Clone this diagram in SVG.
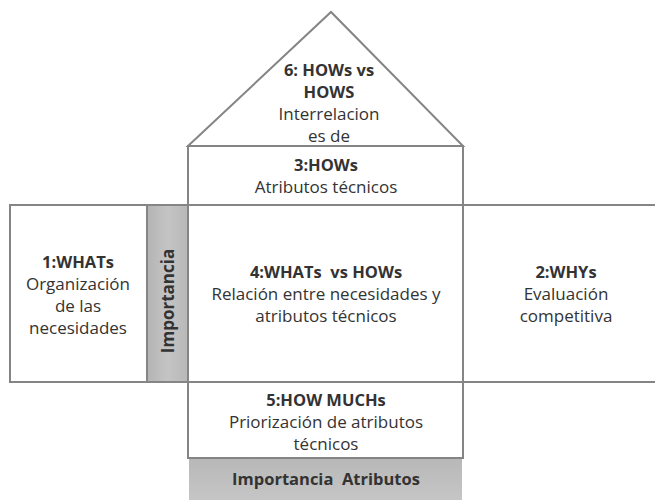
<svg xmlns="http://www.w3.org/2000/svg" width="655" height="500" viewBox="0 0 655 500">
  <defs>
    <linearGradient id="gv" x1="0" y1="0" x2="1" y2="0">
      <stop offset="0" stop-color="#b4b4b4"/>
      <stop offset="0.5" stop-color="#c4c4c4"/>
      <stop offset="1" stop-color="#b8b8b8"/>
    </linearGradient>
    <linearGradient id="gh" x1="0" y1="0" x2="0" y2="1">
      <stop offset="0" stop-color="#b8b8b8"/>
      <stop offset="1" stop-color="#c6c6c6"/>
    </linearGradient>
    <style>
      .ln { fill: none; stroke: #858585; stroke-width: 2; }
      .box { fill: #ffffff; stroke: #858585; stroke-width: 2; }
      text { font-family: "Open Sans", "Liberation Sans", sans-serif; fill: #333333; text-anchor: middle; white-space: pre; }
      .h { font-weight: bold; font-size: 16.5px; }
      .t { font-size: 17px; }
    </style>
  </defs>
  <rect width="655" height="500" fill="#ffffff"/>

  <g id="roof">
    <polygon class="box" points="188,146 331,12 463,146"/>
    <text class="h" x="329" y="76">6: HOWs vs</text>
    <text class="h" x="329" y="98">HOWS</text>
    <text class="t" x="329" y="120">Interrelacion</text>
    <text class="t" x="329" y="142">es de</text>
  </g>

  <g id="hows">
    <rect class="box" x="188" y="146" width="275" height="59"/>
    <text class="h" x="326" y="171">3:HOWs</text>
    <text class="t" x="326" y="193">Atributos técnicos</text>
  </g>

  <g id="whats">
    <rect class="box" x="10" y="205" width="137" height="177"/>
    <text class="h" x="78" y="268">1:WHATs</text>
    <text class="t" x="78" y="290">Organización</text>
    <text class="t" x="78" y="312">de las</text>
    <text class="t" x="78" y="334">necesidades</text>
  </g>

  <g id="importancia">
    <rect x="147" y="205" width="41" height="177" fill="url(#gv)" stroke="#858585" stroke-width="2"/>
    <text class="h" transform="translate(174,301) rotate(-90)" x="0" y="0" style="font-size:17px">Importancia</text>
  </g>

  <g id="whats-vs-hows">
    <rect class="box" x="188" y="205" width="275" height="177"/>
    <text class="h" x="326" y="278">4:WHATs  vs HOWs</text>
    <text class="t" x="326" y="300">Relación entre necesidades y</text>
    <text class="t" x="326" y="322">atributos técnicos</text>
  </g>

  <g id="whys">
    <path class="ln" d="M463,205 H656 M463,382 H656"/>
    <text class="h" x="566" y="278">2:WHYs</text>
    <text class="t" x="566" y="300">Evaluación</text>
    <text class="t" x="566" y="322">competitiva</text>
  </g>

  <g id="how-muchs">
    <rect class="box" x="188" y="382" width="275" height="76"/>
    <text class="h" x="326" y="406">5:HOW MUCHs</text>
    <text class="t" x="326" y="428">Priorización de atributos</text>
    <text class="t" x="326" y="450">técnicos</text>
  </g>

  <g id="importancia-atributos">
    <rect x="189" y="459" width="273" height="42" fill="url(#gh)"/>
    <text class="h" x="326" y="485">Importancia  Atributos</text>
  </g>
</svg>
